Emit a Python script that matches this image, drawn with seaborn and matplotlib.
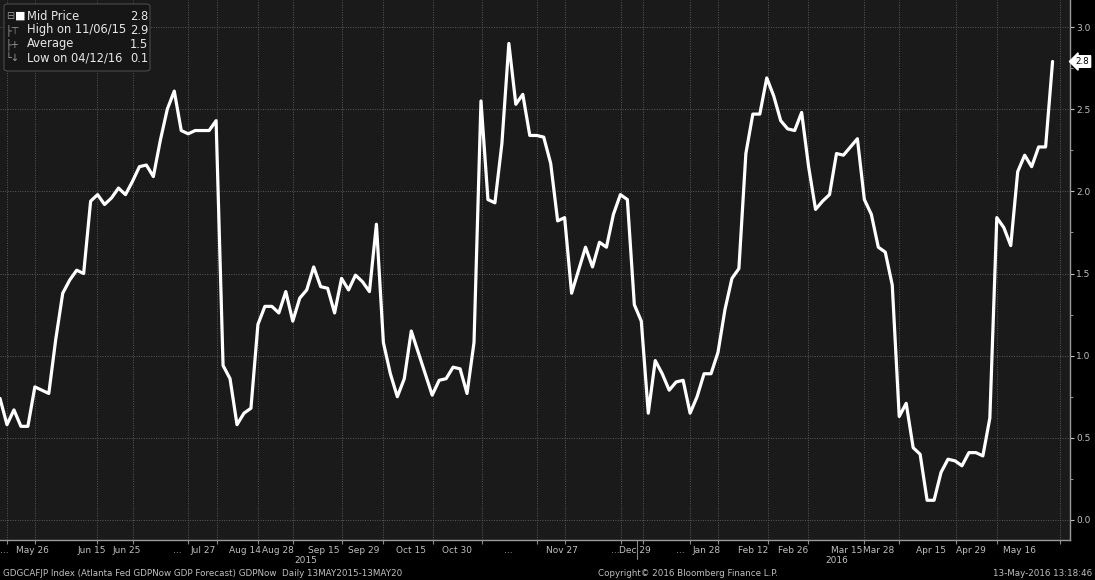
import numpy as np
import pandas as pd
import matplotlib
matplotlib.use("Agg")
import matplotlib.pyplot as plt
import matplotlib.transforms as mtransforms
from matplotlib.patches import FancyBboxPatch
import seaborn as sns

# ---------------- data ----------------
gdpnow = [0.74, 0.58, 0.67, 0.57, 0.57, 0.81, 0.79, 0.77, 1.10, 1.38,
          1.46, 1.52, 1.50, 1.94, 1.98, 1.92, 1.96, 2.02, 1.98, 2.06,
          2.15, 2.16, 2.09, 2.31, 2.50, 2.61, 2.37, 2.35, 2.37, 2.37,
          2.37, 2.43, 0.94, 0.86, 0.58, 0.65, 0.68, 1.19, 1.30, 1.30,
          1.26, 1.39, 1.21, 1.35, 1.40, 1.54, 1.42, 1.41, 1.26, 1.47,
          1.40, 1.49, 1.45, 1.39, 1.80, 1.08, 0.89, 0.75, 0.86, 1.15,
          1.02, 0.89, 0.76, 0.85, 0.86, 0.93, 0.92, 0.77, 1.08, 2.55,
          1.95, 1.93, 2.29, 2.90, 2.53, 2.59, 2.34, 2.34, 2.33, 2.17,
          1.82, 1.84, 1.38, 1.52, 1.66, 1.54, 1.69, 1.66, 1.86, 1.98,
          1.95, 1.31, 1.21, 0.65, 0.97, 0.89, 0.79, 0.84, 0.85, 0.65,
          0.75, 0.89, 0.89, 1.02, 1.28, 1.47, 1.53, 2.23, 2.47, 2.47,
          2.69, 2.58, 2.43, 2.38, 2.37, 2.48, 2.15, 1.89, 1.94, 1.98,
          2.23, 2.22, 2.27, 2.32, 1.95, 1.86, 1.66, 1.63, 1.43, 0.63,
          0.71, 0.44, 0.40, 0.12, 0.12, 0.29, 0.37, 0.36, 0.33, 0.41,
          0.41, 0.39, 0.62, 1.84, 1.78, 1.67, 2.12, 2.22, 2.15, 2.27,
          2.27, 2.79]
sessions = list(range(len(gdpnow)))

tick_labels = ["...", "May 26", "Jun 15", "Jun 25", "...", "Jul 27", "Aug 14",
               "Aug 28", "Sep 15", "Sep 29", "Oct 15", "Oct 30", "...",
               "Nov 27", "...", "Dec 29", "...", "Jan 28", "Feb 12", "Feb 26",
               "Mar 15", "Mar 28", "Apr 15", "Apr 29", "May 16"]
tick_sessions = [0.6, 4.7, 13.2, 18.1, 25.5, 29.1, 35.2, 39.9, 46.5, 52.2,
                 59.0, 65.6, 72.9, 80.6, 88.2, 91.1, 97.6, 101.4, 108.0,
                 113.8, 121.4, 126.1, 133.6, 139.3, 146.2]
grid_sessions = [1.0, 5.0, 13.9, 19.1, 27.0, 31.1, 37.0, 42.0, 49.1, 55.0,
                 62.1, 69.2, 77.0, 81.1, 89.1, 92.3, 99.0, 103.0, 110.2,
                 115.9, 124.0, 129.0, 137.2, 143.0, 152.1]
year_labels = ["2015", "2016"]
year_sessions = [43.8, 120.1]
year_break_session = 91.4

legend_names = ["Mid Price", "High on 11/06/15", "Average", "Low on 04/12/16"]
legend_values = ["2.8", "2.9", "1.5", "0.1"]

df = pd.DataFrame({"session": sessions, "value": gdpnow})

# ---------------- style ----------------
W, H = 1095, 580
sns.set_style("dark")
plt.rcParams["font.family"] = ["DejaVu Sans"]

fig = plt.figure(figsize=(W / 100, H / 100), dpi=100, facecolor="black")
ax = fig.add_axes([0, 40 / H, 1070 / W, 540 / H])
ax.set_facecolor("#1a1a1a")

sns.lineplot(data=df, x="session", y="value", ax=ax, color="white",
             linewidth=2.3, legend=False)

ax.set_xlim(0, 153.5)
ax.set_ylim(-20 / 164.3, 3.0 + 27 / 164.3)
ax.set_xlabel("")
ax.set_ylabel("")

# y axis on the right
ax.yaxis.tick_right()
ax.set_yticks(np.arange(0, 3.01, 0.5))
ax.set_yticks(np.arange(0.25, 3.0, 0.5), minor=True)
ax.set_yticklabels([f"{v:.1f}" for v in np.arange(0, 3.01, 0.5)])
ax.tick_params(axis="y", which="major", colors="#bfbfbf", labelsize=6.5,
               length=3, width=0.8, pad=1.5, right=True, left=False)
ax.tick_params(axis="y", which="minor", colors="#8a8a8a", length=2,
               width=0.8, right=True, left=False)

# x axis labels (major) and grid (minor)
ax.set_xticks(tick_sessions)
ax.set_xticklabels(tick_labels)
ax.set_xticks(grid_sessions, minor=True)
ax.tick_params(axis="x", which="major", colors="#bfbfbf", labelsize=6.5,
               length=0, pad=4)
ax.tick_params(axis="x", which="minor", colors="#8a8a8a", length=3,
               width=0.8, direction="out", bottom=True)

ax.grid(False)
ax.grid(True, which="minor", axis="x", color="#5a5a5a", linestyle=(0, (1, 1.5)),
        linewidth=0.7)
ax.grid(True, which="major", axis="y", color="#5a5a5a", linestyle=(0, (1, 1.5)),
        linewidth=0.7)
ax.set_axisbelow(True)

for side in ["top", "left"]:
    ax.spines[side].set_visible(False)
ax.spines["right"].set_color("#9a9a9a")
ax.spines["right"].set_linewidth(1.0)
ax.spines["bottom"].set_color("#9a9a9a")
ax.spines["bottom"].set_linewidth(1.0)

# year labels and separator
trans = mtransforms.blended_transform_factory(ax.transData, ax.transAxes)
for lab, s in zip(year_labels, year_sessions):
    ax.text(s, -0.038, lab, transform=trans, ha="center", va="center",
            color="#bfbfbf", fontsize=6.5, clip_on=False)
ax.plot([year_break_session, year_break_session], [0, -0.036], transform=trans,
        color="#8a8a8a", linewidth=0.8, clip_on=False)

# last value marker on the right axis
last = gdpnow[-1]
ax.annotate(f"{last:.1f}", xy=(1.0, last),
            xycoords=mtransforms.blended_transform_factory(ax.transAxes, ax.transData),
            xytext=(4, 0), textcoords="offset points", ha="left", va="center",
            fontsize=6.3, color="black", annotation_clip=False,
            bbox=dict(boxstyle="larrow,pad=0.15", fc="white", ec="white"))

# legend box top-left
box = FancyBboxPatch((4 / W, 1 - 71 / H), 146 / W, 67 / H,
                     boxstyle="round,pad=0,rounding_size=0.004",
                     transform=fig.transFigure, fc="#161616", ec="#4a4a4a",
                     lw=0.8, zorder=5)
fig.add_artist(box)
icons = ["⊟", "├⊤", "├+", "└↓"]
rows_y = [16, 30, 44, 58]
for icon, name, val, yy in zip(icons, legend_names, legend_values, rows_y):
    fig.text(6 / W, 1 - yy / H, icon, ha="left", va="center", color="#9a9a9a",
             fontsize=7, zorder=6)
    fig.text(27 / W, 1 - yy / H, name, ha="left", va="center", color="#e8e8e8",
             fontsize=8.3, zorder=6)
    fig.text(148 / W, 1 - yy / H, val, ha="right", va="center", color="#e8e8e8",
             fontsize=8.3, zorder=6)
# white square for mid price
fig.text(15 / W, 1 - 16 / H, "■", ha="left", va="center", color="white",
         fontsize=8, zorder=7)

# footer
fig.text(3 / W, 1 - 573 / H,
         "GDGCAFJP Index (Atlanta Fed GDPNow GDP Forecast) GDPNow  Daily 13MAY2015-13MAY20",
         ha="left", va="center", color="#bfbfbf", fontsize=6.3)
fig.text(598 / W, 1 - 573 / H, "Copyright© 2016 Bloomberg Finance L.P.",
         ha="left", va="center", color="#bfbfbf", fontsize=6.3)
fig.text(1092 / W, 1 - 573 / H, "13-May-2016 13:18:46", ha="right",
         va="center", color="#bfbfbf", fontsize=6.3)

fig.savefig("out.png", dpi=100, facecolor="black")
